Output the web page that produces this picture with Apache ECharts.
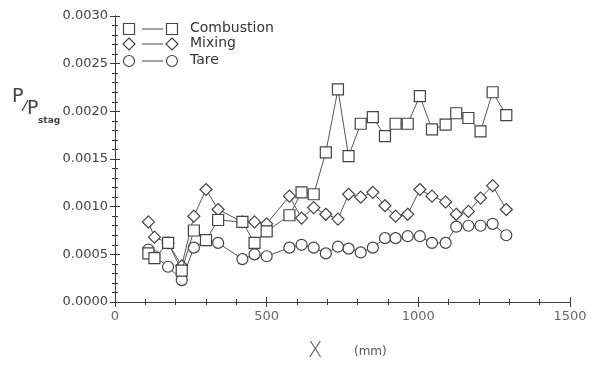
<!DOCTYPE html>
<html>
<head>
<meta charset="utf-8">
<script src="https://cdn.jsdelivr.net/npm/echarts@6/dist/echarts.min.js"></script>
<style>
  html, body { margin: 0; padding: 0; background: #fff; }
  #chart { width: 600px; height: 370px; }
</style>
</head>
<body>
<div id="chart"></div>
<script>
// distance along duct, mm (shared by all three runs)
const xPos = [110, 130, 175, 220, 260, 300, 340, 420, 460, 500, 575, 615, 655, 695, 735,
  770, 810, 850, 890, 925, 965, 1005, 1045, 1090, 1125, 1165, 1205, 1245, 1290];

// P / P_stag
const combustion = [0.00051, 0.00046, 0.00062, 0.00033, 0.00075, 0.00065, 0.00086, 0.00084,
  0.00062, 0.00074, 0.00091, 0.00115, 0.00113, 0.00157, 0.00223, 0.00153, 0.00187, 0.00194,
  0.00174, 0.00187, 0.00187, 0.00216, 0.00181, 0.00186, 0.00198, 0.00193, 0.00179, 0.00220, 0.00196];
const mixing = [0.00084, 0.00068, 0.00062, 0.00038, 0.00090, 0.00118, 0.00097, 0.00084,
  0.00084, 0.00082, 0.00111, 0.00088, 0.00099, 0.00092, 0.00087, 0.00113, 0.00110, 0.00115,
  0.00101, 0.00090, 0.00092, 0.00118, 0.00111, 0.00105, 0.00092, 0.00095, 0.00109, 0.00122, 0.00097];
const tare = [0.00055, 0.00048, 0.00037, 0.00023, 0.00057, 0.00065, 0.00062, 0.00045,
  0.00050, 0.00048, 0.00057, 0.00060, 0.00057, 0.00051, 0.00058, 0.00056, 0.00052, 0.00057,
  0.00067, 0.00067, 0.00069, 0.00069, 0.00062, 0.00062, 0.00079, 0.00080, 0.00080, 0.00082, 0.00070];

const seriesNames = ['Combustion', 'Mixing', 'Tare'];
const seriesSymbols = ['rect', 'diamond', 'circle'];
const seriesData = [combustion, mixing, tare];

const FONT = 'DejaVu Sans';
const INK = '#3a3a3a';

const chart = echarts.init(document.getElementById('chart'));

const pair = (vals) => xPos.map((x, i) => [x, vals[i]]);

const axisCommon = {
  axisLine: { show: true, lineStyle: { color: INK, width: 1 } },
  axisTick: { show: true, inside: true, length: 5, lineStyle: { color: INK } },
  minorTick: { show: true, splitNumber: 5, length: 3, lineStyle: { color: INK } },
  splitLine: { show: false },
};

const series = seriesNames.map((name, i) => ({
  name,
  type: 'line',
  data: pair(seriesData[i]),
  symbol: seriesSymbols[i],
  symbolSize: i === 1 ? 12 : 11,
  showAllSymbol: true,
  itemStyle: { color: '#fff', borderColor: '#444', borderWidth: 1.2 },
  lineStyle: { color: '#555', width: 1 },
  emphasis: { disabled: true },
  z: 3 - i,
}));

// hand-drawn style legend: symbol — symbol  Name
const legendItems = [];
const legendRows = [29, 44, 61];
seriesNames.forEach((name, i) => {
  const y = legendRows[i];
  const shape = (cx) => {
    const style = { fill: '#fff', stroke: '#444', lineWidth: 1.2 };
    if (i === 0) return { type: 'rect', shape: { x: cx - 5.5, y: y - 5.5, width: 11, height: 11 }, style };
    if (i === 1) return { type: 'polygon', shape: { points: [[cx, y - 6], [cx + 6, y], [cx, y + 6], [cx - 6, y]] }, style };
    return { type: 'circle', shape: { cx, cy: y, r: 5.5 }, style };
  };
  legendItems.push(shape(129));
  legendItems.push({ type: 'line', shape: { x1: 142, y1: y, x2: 163, y2: y }, style: { stroke: '#444', lineWidth: 1 } });
  legendItems.push(shape(172));
  legendItems.push({
    type: 'text', left: 190, top: y - 8,
    style: { text: name, font: '14px ' + FONT, fill: '#333' },
  });
});

chart.setOption({
  animation: false,
  backgroundColor: '#fff',
  grid: { left: 115, right: 30, top: 16, bottom: 68 },
  xAxis: [
    {
      ...axisCommon,
      type: 'value', min: 0, max: 1500, interval: 500,
      axisLabel: { color: '#666', fontFamily: FONT, fontSize: 13, margin: 8, formatter: (v) => String(v) },
    },
    {
      ...axisCommon,
      type: 'value', position: 'top', min: 0, max: 1500, interval: 500,
      axisLabel: { show: false },
    },
  ],
  yAxis: [
    {
      ...axisCommon,
      type: 'value', min: 0, max: 0.003, interval: 0.0005,
      axisLabel: {
        color: '#444', fontFamily: FONT, fontSize: 13, margin: 7,
        formatter: (v) => v.toFixed(4),
      },
    },
    {
      ...axisCommon,
      type: 'value', position: 'right', min: 0, max: 0.003, interval: 0.0005,
      axisLabel: { show: false },
    },
  ],
  series,
  graphic: [
    ...legendItems,
    { type: 'text', left: 12, top: 88, style: { text: 'P', font: '19px ' + FONT, fill: '#444' } },
    { type: 'line', shape: { x1: 22, y1: 111, x2: 28, y2: 100 }, style: { stroke: '#444', lineWidth: 1.3 } },
    { type: 'text', left: 27, top: 100, style: { text: 'P', font: '19px ' + FONT, fill: '#444' } },
    { type: 'text', left: 38, top: 116, style: { text: 'stag', font: 'bold 9px ' + FONT, fill: '#444' } },
    { type: 'text', left: 308, top: 341, style: { text: 'X', font: '300 21px ' + FONT, fill: '#555' } },
    { type: 'text', left: 354, top: 346, style: { text: '(mm)', font: '12px ' + FONT, fill: '#555' } },
  ],
});
</script>
</body>
</html>
